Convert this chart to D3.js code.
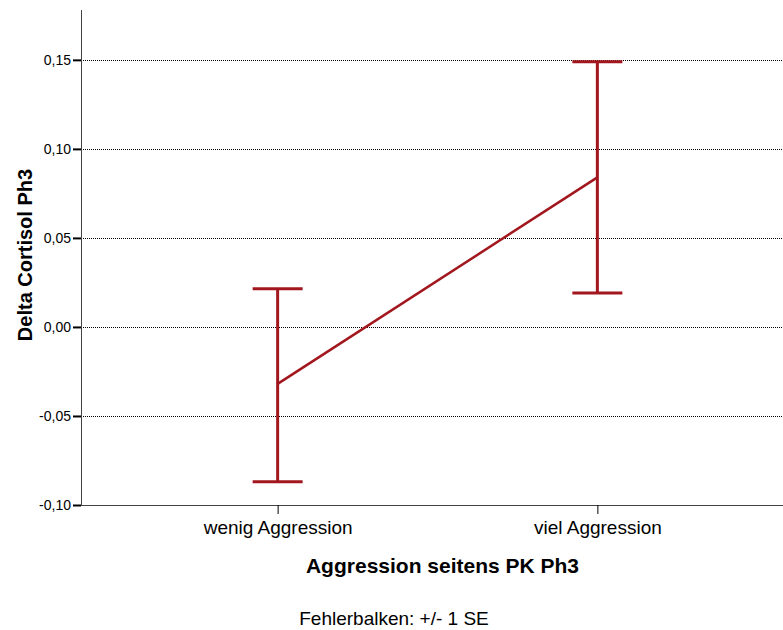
<!DOCTYPE html>
<html>
<head>
<meta charset="utf-8">
<script src="https://cdn.jsdelivr.net/npm/d3@7"></script>
<style>
  body { margin: 0; background: #fff; }
  text { font-family: "Liberation Sans", Arial, sans-serif; }
</style>
</head>
<body>
<script>
var width = 783;
var height = 630;

// data
var categories = ["wenig Aggression", "viel Aggression"];
var means = [-0.032, 0.084];
var upper = [0.0215, 0.149];
var lower = [-0.087, 0.019];
var yTicks = [-0.10, -0.05, 0.00, 0.05, 0.10, 0.15];

var mLeft = 81, mTop = 10, mBottom = 505, mRight = 794;
var red = "#a2171d";
var font = "'Liberation Sans', Arial, sans-serif";

var svg = d3.select("body")
  .append("svg")
  .attr("width", width)
  .attr("height", height);

var x = d3.scalePoint()
  .domain(categories)
  .range([mLeft, mRight])
  .padding(0.615);

var y = d3.scaleLinear()
  .domain([-0.10, 0.178])
  .range([mBottom, mTop]);

var fmt = function(d) { return d3.format(".2f")(d).replace(".", ",").replace("−", "-"); };

// gridlines
svg.append("g")
  .selectAll("line")
  .data(yTicks.filter(function(d) { return d > -0.10; }))
  .enter().append("line")
    .attr("x1", mLeft)
    .attr("x2", width)
    .attr("y1", function(d) { return Math.round(y(d)) + 0.5; })
    .attr("y2", function(d) { return Math.round(y(d)) + 0.5; })
    .attr("stroke", "#000")
    .attr("stroke-width", 1)
    .attr("stroke-dasharray", "1,1");

// y axis
var yAxis = svg.append("g")
  .attr("transform", "translate(" + mLeft + ",0)")
  .call(d3.axisLeft(y).tickValues(yTicks).tickFormat(fmt).tickSize(8).tickPadding(2));
yAxis.select(".domain").attr("d", "M0.5," + mTop + "V" + (mBottom + 0.5)).attr("stroke", "#444");
yAxis.selectAll(".tick line").attr("stroke", "#000").attr("stroke-width", 2);
yAxis.selectAll("text").attr("font-size", 14).attr("fill", "#000").attr("font-family", font);

// x axis
var xAxis = svg.append("g")
  .attr("transform", "translate(0," + mBottom + ")")
  .call(d3.axisBottom(x).tickSize(9).tickPadding(7));
xAxis.select(".domain").attr("d", "M" + mLeft + ",0.5H" + width).attr("stroke", "#444");
xAxis.selectAll(".tick line").attr("stroke", "#000").attr("stroke-width", 1);
xAxis.selectAll("text").attr("font-size", 19).attr("fill", "#000").attr("font-family", font);

// error bars
var bars = svg.append("g").selectAll("g")
  .data(categories)
  .enter().append("g");

bars.append("line")
  .attr("x1", function(d) { return x(d); })
  .attr("x2", function(d) { return x(d); })
  .attr("y1", function(d, i) { return y(upper[i]); })
  .attr("y2", function(d, i) { return y(lower[i]); })
  .attr("stroke", red)
  .attr("stroke-width", 3);

bars.selectAll(".cap")
  .data(function(d, i) { return [[d, upper[i]], [d, lower[i]]]; })
  .enter().append("line")
    .attr("class", "cap")
    .attr("x1", function(d) { return x(d[0]) - 25; })
    .attr("x2", function(d) { return x(d[0]) + 25; })
    .attr("y1", function(d) { return y(d[1]); })
    .attr("y2", function(d) { return y(d[1]); })
    .attr("stroke", red)
    .attr("stroke-width", 3);

// mean line
svg.append("path")
  .datum(categories)
  .attr("fill", "none")
  .attr("stroke", red)
  .attr("stroke-width", 2.5)
  .attr("d", d3.line()
    .x(function(d) { return x(d); })
    .y(function(d, i) { return y(means[i]); }));

// titles
svg.append("text")
  .attr("x", (mLeft + mRight) / 2 + 5)
  .attr("y", 573)
  .attr("text-anchor", "middle")
  .attr("font-size", 21)
  .attr("font-weight", "bold")
  .text("Aggression seitens PK Ph3");

svg.append("text")
  .attr("transform", "translate(32,255) rotate(-90)")
  .attr("text-anchor", "middle")
  .attr("font-size", 20)
  .attr("font-weight", "bold")
  .text("Delta Cortisol Ph3");

svg.append("text")
  .attr("x", 394)
  .attr("y", 625)
  .attr("text-anchor", "middle")
  .attr("font-size", 19)
  .text("Fehlerbalken: +/- 1 SE");
</script>
</body>
</html>
